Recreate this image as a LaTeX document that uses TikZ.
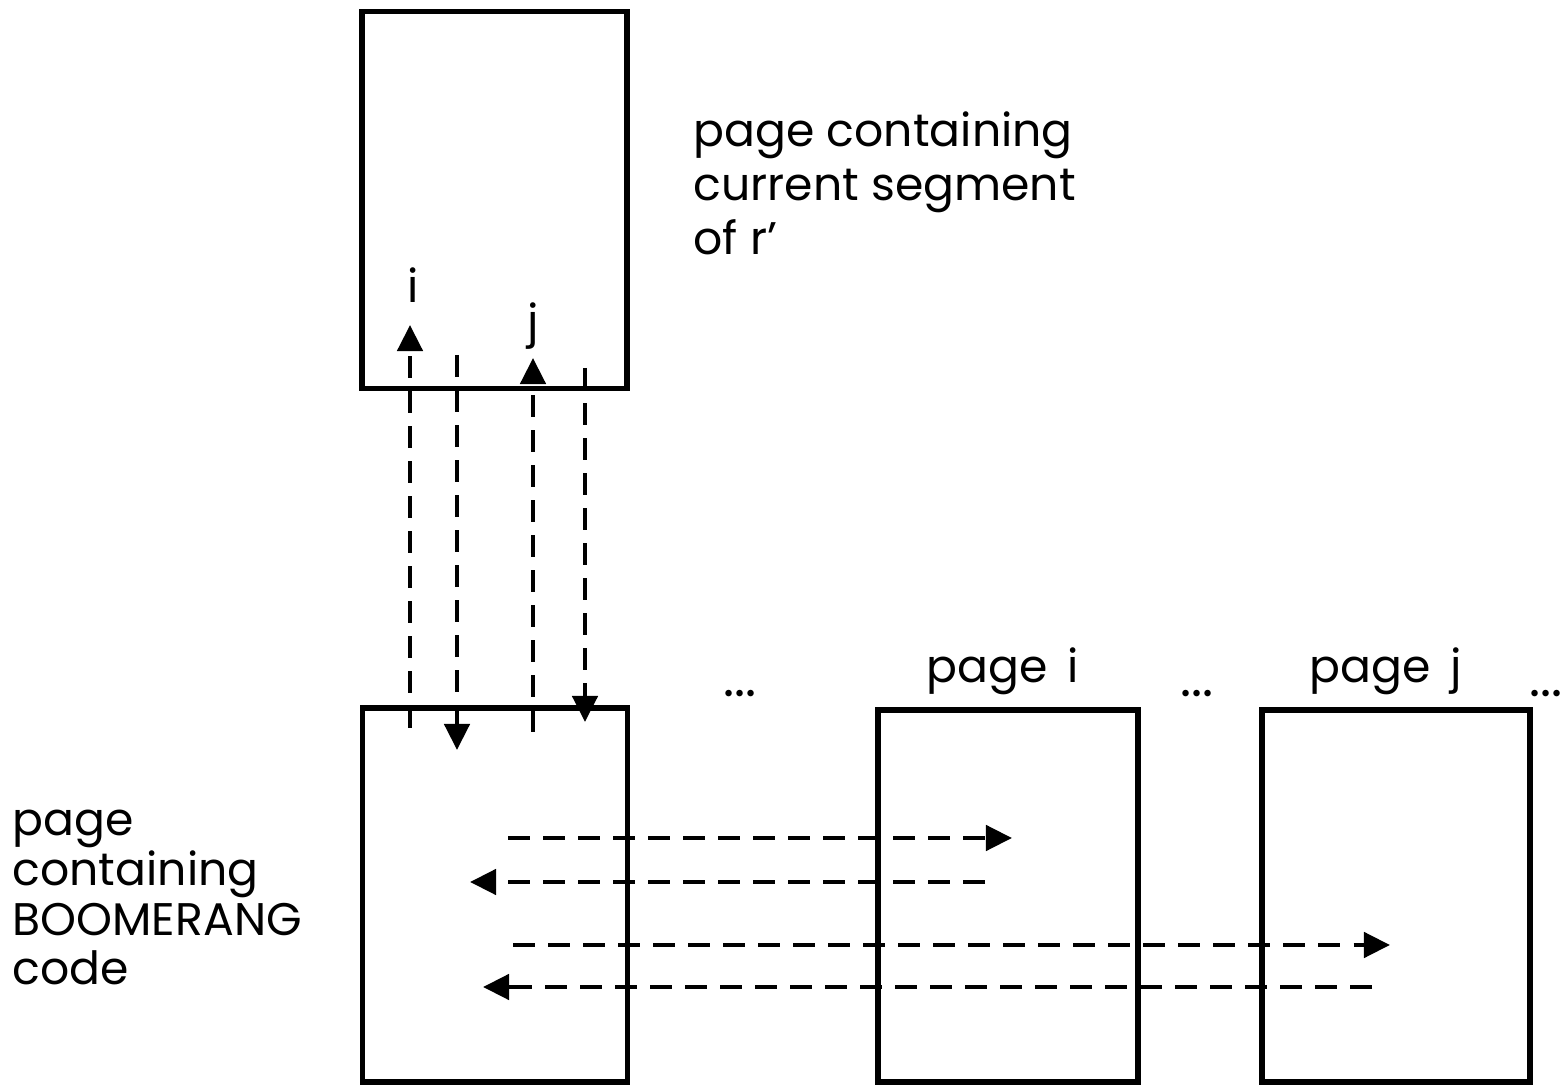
\documentclass[tikz,border=0pt]{standalone}
\usepackage{fontspec}
\setmainfont{Poppins}
\usetikzlibrary{arrows.meta}

\begin{document}
\begin{tikzpicture}[x=0.01cm,y=-0.01cm]
	\tikzset{pagebox/.style={draw,line width=1.6pt,inner sep=0pt},
		flow/.style={line width=1.3pt,dash pattern=on 0.22cm off 0.13cm,-{Triangle[length=0.26cm,width=0.25cm]}},
		lbl/.style={font=\fontsize{13}{14.2}\selectfont,inner sep=0pt},
		gapdots/.style={font=\fontsize{15}{15}\selectfont,inner sep=0pt}};
	\useasboundingbox (0,0) rectangle (1565,1085);
	\node[pagebox,minimum width=2.65cm,minimum height=3.77cm] (seg) at (494.5,200) {};
	\node[pagebox,minimum width=2.65cm,minimum height=3.74cm] (boom) at (495,895) {};
	\node[pagebox,minimum width=2.6cm,minimum height=3.72cm] (pgi) at (1008,896) {};
	\node[pagebox,minimum width=2.68cm,minimum height=3.72cm] (pgj) at (1396,896) {};
	\node[lbl,align=left,anchor=north west,font=\fontsize{13}{15.4}\selectfont] (segtxt) at (693,111) {page containing\\current segment\\of r'};
	\node[lbl,align=left,anchor=north west] (boomtxt) at (12,809) {page\\containing\\BOOMERANG\\code};
	\node[lbl,anchor=base] (ltri) at (1003,683) {page\ \,i};
	\node[lbl,anchor=base] (ltrj) at (1386,683) {page\ \,j};
	\node[lbl,anchor=base] (li) at (413,303) {i};
	\node[lbl,anchor=base] (lj) at (533,338) {j};
	\node[gapdots,anchor=base] (gap1) at (740,697) {.{}.{}.};
	\node[gapdots,anchor=base] (gap2) at (1197,697) {.{}.{}.};
	\node[gapdots,anchor=base east] (gap3) at (1563,697) {.{}.{}.};
	\coordinate (u1a) at (410,728); \coordinate (u1b) at (410,325);
	\coordinate (d1a) at (457,355); \coordinate (d1b) at (457,750);
	\coordinate (u2a) at (533,732); \coordinate (u2b) at (533,358);
	\coordinate (d2a) at (585,368); \coordinate (d2b) at (585,722);
	\coordinate (r1a) at (508,838); \coordinate (r1b) at (1012,838);
	\coordinate (l1a) at (985,882); \coordinate (l1b) at (470,882);
	\coordinate (r2a) at (513,945); \coordinate (r2b) at (1390,945);
	\coordinate (l2a) at (1372,987); \coordinate (l2b) at (483,987);
	\draw[flow] (u1a) -- (u1b);
	\draw[flow] (d1a) -- (d1b);
	\draw[flow] (u2a) -- (u2b);
	\draw[flow] (d2a) -- (d2b);
	\draw[flow] (r1a) -- (r1b);
	\draw[flow] (l1a) -- (l1b);
	\draw[flow] (r2a) -- (r2b);
	\draw[flow] (l2a) -- (l2b);
\end{tikzpicture}
\end{document}
